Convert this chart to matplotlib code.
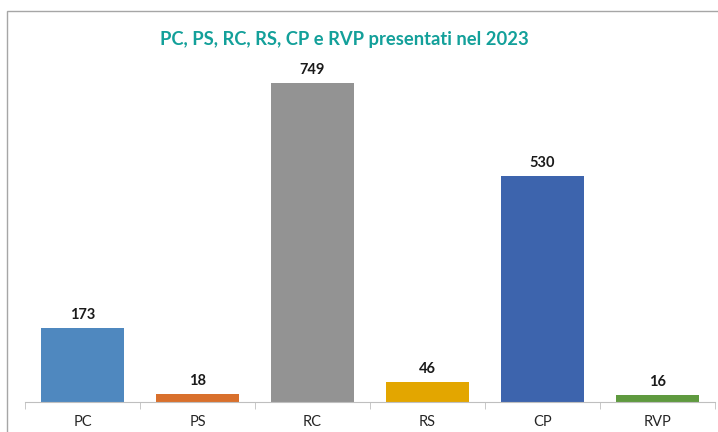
import numpy as np
import matplotlib.pyplot as plt
from matplotlib.patches import Rectangle

categories = ["PC", "PS", "RC", "RS", "CP", "RVP"]
values = [173, 18, 749, 46, 530, 16]
colors = ["#4f88bf", "#d9702c", "#939393", "#e3a600", "#3d64ad", "#5f9a3f"]

plt.rcParams['font.family'] = ['Lato', 'DejaVu Sans']

fig = plt.figure(figsize=(7.18, 4.32), dpi=100)
ax = fig.add_axes([25/718, 30/432, 690/718, 341/432])

x = np.arange(len(categories))
bars = ax.bar(x, values, width=0.72, color=colors)
for xi, v in zip(x, values):
    ax.text(xi, v + 14, str(v), ha='center', va='bottom', fontsize=10.5,
            fontweight='bold', color='#1a1a1a')

ax.set_xlim(-0.5, len(categories) - 0.5)
ax.set_ylim(0, 800)
ax.set_yticks([])
for s in ['top', 'right', 'left']:
    ax.spines[s].set_visible(False)
ax.spines['bottom'].set_color('#bfbfbf')
ax.set_xticks(x)
ax.set_xticklabels(categories, fontsize=10.5, color='#262626')
ax.tick_params(axis='x', which='major', length=0, pad=9)
ax.set_xticks(np.arange(len(categories) + 1) - 0.5, minor=True)
ax.tick_params(axis='x', which='minor', length=5, color='#bfbfbf')

fig.text(344/718, 1 - 40/432, "PC, PS, RC, RS, CP e RVP presentati nel 2023",
         ha='center', va='center', fontsize=13.2, fontweight='bold', color='#13a09a')

fig.patches.append(Rectangle((7/718, -0.1), 1, (432 - 11)/432 + 0.1,
                             transform=fig.transFigure, fill=False,
                             edgecolor='#a6a6a6', lw=1))

fig.savefig("out.png", dpi=100)
